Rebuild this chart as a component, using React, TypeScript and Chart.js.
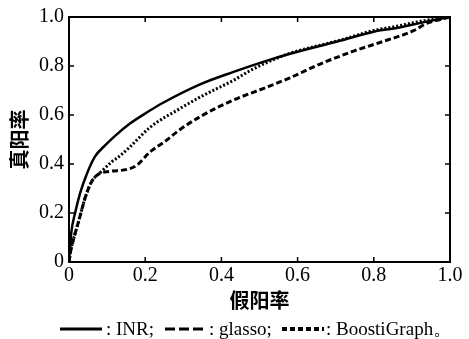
import { useEffect, useRef } from "react";
import { Chart, registerables } from "chart.js";

Chart.register(...registerables);

// INR (solid)
const INR_X = [0, 0.002, 0.006, 0.016, 0.029, 0.047, 0.068, 0.094, 0.121, 0.16, 0.204, 0.247, 0.344, 0.43, 0.52, 0.58, 0.711, 0.8, 0.86, 0.92, 0.965, 1];
const INR_Y = [0, 0.04, 0.12, 0.2, 0.28, 0.36, 0.43, 0.475, 0.515, 0.565, 0.61, 0.65, 0.725, 0.775, 0.822, 0.85, 0.903, 0.94, 0.955, 0.975, 0.99, 1];

// glasso (dashed)
const GLASSO_X = [0, 0.005, 0.013, 0.026, 0.042, 0.06, 0.079, 0.107, 0.152, 0.178, 0.213, 0.25, 0.291, 0.344, 0.43, 0.52, 0.58, 0.659, 0.711, 0.745, 0.834, 0.903, 0.94, 0.974, 1];
const GLASSO_Y = [0, 0.05, 0.1, 0.17, 0.26, 0.33, 0.36, 0.37, 0.378, 0.395, 0.45, 0.49, 0.54, 0.593, 0.66, 0.714, 0.752, 0.808, 0.84, 0.86, 0.905, 0.943, 0.975, 0.99, 1];

// BoostiGraph (dotted)
const BOOSTI_X = [0, 0.005, 0.013, 0.026, 0.042, 0.06, 0.079, 0.113, 0.131, 0.16, 0.213, 0.291, 0.344, 0.378, 0.43, 0.48, 0.546, 0.58, 0.711, 0.8, 0.86, 0.92, 1];
const BOOSTI_Y = [0, 0.05, 0.1, 0.17, 0.26, 0.33, 0.36, 0.41, 0.43, 0.47, 0.55, 0.626, 0.673, 0.7, 0.74, 0.785, 0.832, 0.852, 0.905, 0.945, 0.962, 0.982, 1];

const X_TICKS = [0, 0.2, 0.4, 0.6, 0.8, 1.0];
const Y_TICKS = [0, 0.2, 0.4, 0.6, 0.8, 1.0];

const X_TITLE = "假阳率";
const Y_TITLE = "真阳率";
const LEGEND_TEXT = [": INR;", ": glasso;", ": BoostiGraph。"];

const SERIF = '"Liberation Serif", "Times New Roman", serif';
const CJK = '"Noto Sans CJK SC", sans-serif';

const toPts = (xs: number[], ys: number[]) => xs.map((x, i) => ({ x, y: ys[i] }));
const fmt = (v: number) => (v === 0 ? "0" : v.toFixed(1));

const framePlugin = {
  id: "frame",
  afterDatasetsDraw(chart: any) {
    const { ctx, chartArea: a, scales } = chart;
    ctx.save();
    ctx.strokeStyle = "#000";
    ctx.lineWidth = 2;
    ctx.setLineDash([]);
    ctx.strokeRect(a.left, a.top, a.right - a.left, a.bottom - a.top);
    const L = 5;
    ctx.beginPath();
    X_TICKS.forEach((v) => {
      const x = scales.x.getPixelForValue(v);
      ctx.moveTo(x, a.bottom);
      ctx.lineTo(x, a.bottom - L);
      ctx.moveTo(x, a.top);
      ctx.lineTo(x, a.top + L);
    });
    Y_TICKS.forEach((v) => {
      const y = scales.y.getPixelForValue(v);
      ctx.moveTo(a.left, y);
      ctx.lineTo(a.left + L, y);
      ctx.moveTo(a.right, y);
      ctx.lineTo(a.right - L, y);
    });
    ctx.lineWidth = 1.5;
    ctx.stroke();
    ctx.restore();
  },
};

export default function App() {
  const ref = useRef<HTMLCanvasElement>(null);
  useEffect(() => {
    document.body.style.margin = "0";
    const common = { borderColor: "#000", pointRadius: 0, cubicInterpolationMode: "monotone", fill: false };
    const chart = new Chart(ref.current!, {
      type: "line",
      data: {
        datasets: [
          { label: "INR", data: toPts(INR_X, INR_Y), borderWidth: 2.5, ...common },
          { label: "glasso", data: toPts(GLASSO_X, GLASSO_Y), borderWidth: 3, borderDash: [6, 3], ...common },
          { label: "BoostiGraph", data: toPts(BOOSTI_X, BOOSTI_Y), borderWidth: 3, borderDash: [2, 2], ...common },
        ] as any,
      },
      options: {
        animation: false,
        responsive: false,
        layout: { padding: { left: 0, right: 19, top: 14, bottom: 27 } },
        plugins: { legend: { display: false }, tooltip: { enabled: false } },
        scales: {
          x: {
            type: "linear",
            min: 0,
            max: 1,
            afterFit: (s: any) => { s.height = 50; },
            afterBuildTicks: (s: any) => { s.ticks = X_TICKS.map((v) => ({ value: v })); },
            ticks: { font: { family: SERIF, size: 20 }, color: "#000", padding: 2, maxRotation: 0, callback: (v: any) => fmt(Number(v)) },
            grid: { display: false, drawTicks: false },
            border: { display: false },
            title: { display: true, text: X_TITLE, color: "#000", font: { family: CJK, size: 20, weight: "bold" }, padding: { top: 0, bottom: 0 } },
          },
          y: {
            type: "linear",
            min: 0,
            max: 1,
            afterFit: (s: any) => { s.width = 69; },
            afterBuildTicks: (s: any) => { s.ticks = Y_TICKS.map((v) => ({ value: v })); },
            ticks: { font: { family: SERIF, size: 20 }, color: "#000", padding: 5, callback: (v: any) => fmt(Number(v)) },
            grid: { display: false, drawTicks: false },
            border: { display: false },
            title: { display: true, text: Y_TITLE, color: "#000", font: { family: CJK, size: 20, weight: "bold" }, padding: { top: 7, bottom: 0 } },
          },
        },
      } as any,
      plugins: [framePlugin],
    });
    return () => chart.destroy();
  }, []);

  const textStyle: any = { position: "absolute", top: 318, fontFamily: SERIF, fontSize: 19, color: "#000", whiteSpace: "nowrap", lineHeight: "22px" };
  const sample = (left: number, dash: string | undefined, w: number) => (
    <svg style={{ position: "absolute", left, top: 325 }} width={42} height={8}>
      <line x1={0} y1={4} x2={42} y2={4} stroke="#000" strokeWidth={w} strokeDasharray={dash} />
    </svg>
  );

  return (
    <div style={{ position: "relative", width: 469, height: 339 }}>
      <canvas ref={ref} width={469} height={339} style={{ display: "block", width: 469, height: 339 }} />
      {sample(60, undefined, 3)}
      <span style={{ ...textStyle, left: 106 }}>{LEGEND_TEXT[0]}</span>
      {sample(165, "10 4", 3)}
      <span style={{ ...textStyle, left: 209 }}>{LEGEND_TEXT[1]}</span>
      {sample(282, "5 3", 4)}
      <span style={{ ...textStyle, left: 326 }}>{LEGEND_TEXT[2]}</span>
    </div>
  );
}
